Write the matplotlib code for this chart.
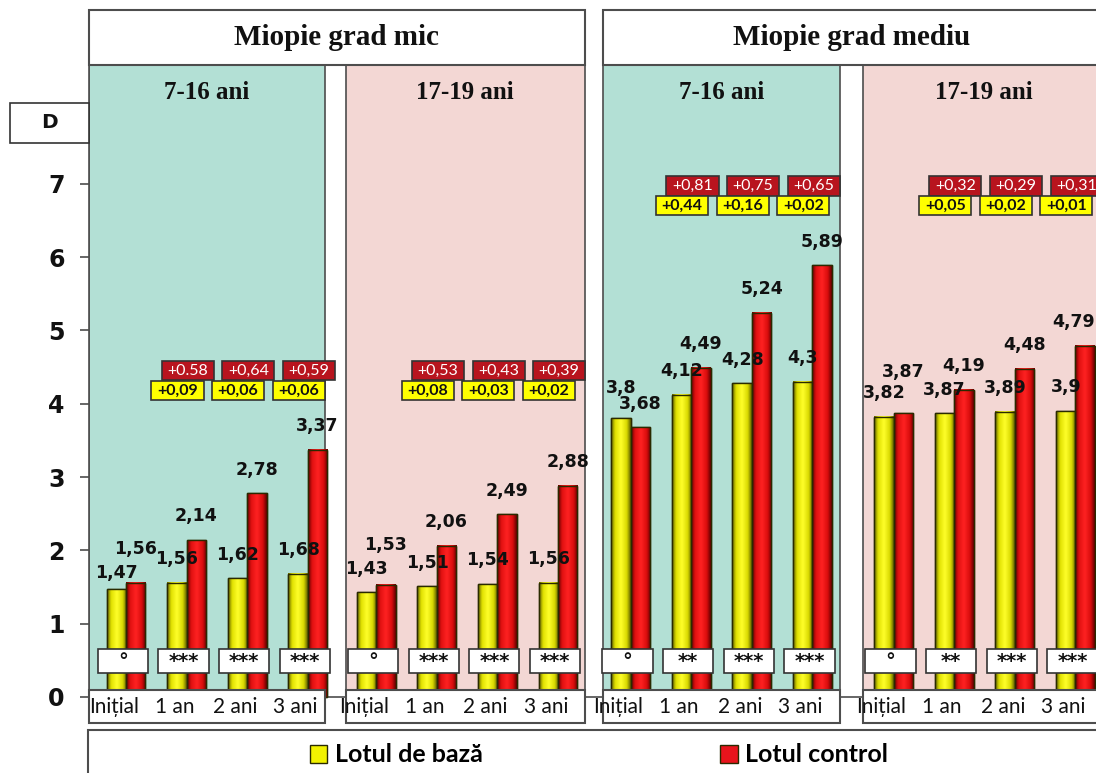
import numpy as np
import matplotlib.pyplot as plt
from matplotlib.patches import Rectangle
from matplotlib.colors import LinearSegmentedColormap

# refraction (D) per period, for each myopia degree / age group
periods = ["Inițial", "1 an", "2 ani", "3 ani"]
degree_titles = ["Miopie grad mic", "Miopie grad mediu"]
age_groups = ["7-16 ani", "17-19 ani", "7-16 ani", "17-19 ani"]

base_mic_7_16 = [1.47, 1.56, 1.62, 1.68]
ctrl_mic_7_16 = [1.56, 2.14, 2.78, 3.37]
base_mic_17_19 = [1.43, 1.51, 1.54, 1.56]
ctrl_mic_17_19 = [1.53, 2.06, 2.49, 2.88]
base_med_7_16 = [3.8, 4.12, 4.28, 4.3]
ctrl_med_7_16 = [3.68, 4.49, 5.24, 5.89]
base_med_17_19 = [3.82, 3.87, 3.89, 3.9]
ctrl_med_17_19 = [3.87, 4.19, 4.48, 4.79]

base_series = [base_mic_7_16, base_mic_17_19, base_med_7_16, base_med_17_19]
ctrl_series = [ctrl_mic_7_16, ctrl_mic_17_19, ctrl_med_7_16, ctrl_med_17_19]

# yearly gains printed above the bars
gain_base = [["+0,09", "+0,06", "+0,06"], ["+0,08", "+0,03", "+0,02"],
             ["+0,44", "+0,16", "+0,02"], ["+0,05", "+0,02", "+0,01"]]
gain_ctrl = [["+0.58", "+0,64", "+0,59"], ["+0,53", "+0,43", "+0,39"],
             ["+0,81", "+0,75", "+0,65"], ["+0,32", "+0,29", "+0,31"]]

significance = [["°", "***", "***", "***"], ["°", "***", "***", "***"],
                ["°", "**", "***", "***"], ["°", "**", "***", "***"]]

# layout
panel_offsets = [0, 4.13, 8.33, 12.67]
panel_left = [-0.61, -0.5, -0.46, -0.51]
panel_right = [3.28, 3.44, 3.45, 3.8]
panel_colors = ["#b3e0d5", "#f3d7d4", "#b3e0d5", "#f3d7d4"]
gain_y = [4.45, 4.45, 6.97, 6.97]
bar_w = 0.32
edge = "#4d4d4d"
y_top = 8.62

# extra lift / shift (points) for crowded value labels
label_lift = {(0, 0, 0): 11.5, (0, 0, 1): 24.5, (1, 0, 1): 29,
              (2, 0, 0): 22, (3, 0, 1): 30}
label_shift = {(3, 3, 1): -8}

yellow_cmap = LinearSegmentedColormap.from_list(
    "yel", [(0, "#5c5c00"), (0.2, "#e0e000"), (0.5, "#ffff2a"), (0.8, "#d8d800"), (1, "#5c5c00")])
red_cmap = LinearSegmentedColormap.from_list(
    "red", [(0, "#5e0000"), (0.2, "#e01010"), (0.5, "#ff2222"), (0.8, "#d80c0c"), (1, "#5e0000")])

fig = plt.figure(figsize=(10.96, 7.73), dpi=100)
ax = fig.add_axes([89 / 1096, 50 / 773, 1007 / 1096, 658 / 773])
ax.set_xlim(-0.61, 16.01)
ax.set_ylim(-0.355, y_top)


def shade(rect, cmap):
    x, w, h = rect.get_x(), rect.get_width(), rect.get_height()
    grad = np.linspace(0, 1, 64).reshape(1, -1)
    ax.imshow(grad, extent=(x, x + w, 0, h), cmap=cmap, aspect="auto",
              interpolation="bicubic", zorder=2.1)
    ax.add_patch(Rectangle((x, 0), w, h, fill=False, edgecolor="#2a2a00",
                           linewidth=1.0, zorder=2.2))


def box(xc, yc, w, h, text, face, tcolor, size, family="Lato", weight="normal", z=5):
    ax.add_patch(Rectangle((xc - w / 2, yc - h / 2), w, h, facecolor=face,
                           edgecolor="#333333", linewidth=1.2, zorder=z, clip_on=False))
    ax.text(xc, yc, text, ha="center", va="center", color=tcolor, fontsize=size,
            family=family, fontweight=weight, zorder=z + 0.1, clip_on=False)


# panel backgrounds
for p in range(4):
    x0 = panel_offsets[p] + panel_left[p]
    x1 = panel_offsets[p] + panel_right[p]
    ax.add_patch(Rectangle((x0, 0.09), x1 - x0, y_top - 0.09, facecolor=panel_colors[p],
                           edgecolor=edge, linewidth=1.2, zorder=0))
    ax.text((x0 + x1) / 2 if p < 3 else x0 + 2.0, 8.25, age_groups[p],
            ha="center", va="center", family="Liberation Serif", fontweight="bold",
            fontsize=18, color="#111111")

ax.axhline(0, color=edge, linewidth=1.2, zorder=0.5)

base_bars = ctrl_bars = None
for p in range(4):
    xs = panel_offsets[p] + np.arange(len(periods))
    base_bars = ax.bar(xs - bar_w / 2, base_series[p], bar_w, color="#f2f200",
                       edgecolor="#2a2a00", linewidth=1.0, zorder=2)
    ctrl_bars = ax.bar(xs + bar_w / 2, ctrl_series[p], bar_w, color="#e8141c",
                       edgecolor="#2a2a00", linewidth=1.0, zorder=2)
    for rect in base_bars:
        shade(rect, yellow_cmap)
    for rect in ctrl_bars:
        shade(rect, red_cmap)

    for s, bars in enumerate([base_bars, ctrl_bars]):
        for g, rect in enumerate(bars):
            v = rect.get_height()
            lift = label_lift.get((p, g, s), 17)
            shift = label_shift.get((p, g, s), 0)
            ax.annotate(f"{v:g}".replace(".", ","),
                        (rect.get_x() + rect.get_width() / 2, v),
                        xytext=(shift, lift), textcoords="offset points",
                        ha="center", va="center", fontsize=12.5, fontweight="bold",
                        color="#111111", zorder=4)

    # yearly gain boxes
    for g in range(3):
        xc = xs[g + 1]
        box(xc + 0.02, gain_y[p], 0.86, 0.26, gain_ctrl[p][g], "#b8141e", "white", 11.5, z=5)
        box(xc - 0.15, gain_y[p] - 0.27, 0.86, 0.26, gain_base[p][g], "#ffff00", "#111111", 11.5,
            weight="bold", z=5.5)

    # significance markers
    for g in range(4):
        box(xs[g] - 0.05, 0.49, 0.83, 0.33, significance[p][g], "white", "#111111", 14,
            family="DejaVu Sans", weight="bold", z=3)

    # category label strip
    x0 = panel_offsets[p] + panel_left[p]
    x1 = panel_offsets[p] + panel_right[p]
    ax.add_patch(Rectangle((x0, -0.355), x1 - x0, 0.45, facecolor="white",
                           edgecolor=edge, linewidth=1.5, zorder=6, clip_on=False))
    for g, lab in enumerate(periods):
        ax.text(xs[g] - 0.2, -0.135, lab, ha="center", va="center", family="Lato",
                fontsize=15, color="#111111", zorder=6.5)

# degree header boxes
header_spans = [(-0.61, 7.57), (7.87, 16.6)]
for (x0, x1), title in zip(header_spans, degree_titles):
    ax.add_patch(Rectangle((x0, y_top), x1 - x0, 0.75, facecolor="white",
                           edgecolor=edge, linewidth=1.5, zorder=6, clip_on=False))
    xc = (x0 + x1) / 2 if x1 < 16 else x0 + 4.1
    ax.text(xc, y_top + 0.37, title, ha="center", va="center", family="Liberation Serif",
            fontweight="bold", fontsize=21, color="#111111", zorder=6.5)

# axes styling
for side in ["top", "right", "bottom"]:
    ax.spines[side].set_visible(False)
ax.spines["left"].set_bounds(0, y_top)
ax.spines["left"].set_color(edge)
ax.spines["left"].set_linewidth(1.2)
ax.spines["left"].set_zorder(7)
ax.set_yticks(range(0, 8))
ax.tick_params(axis="y", length=6.5, width=1.2, color=edge, pad=11)
ax.set_xticks([])
for t in ax.get_yticklabels():
    t.set_fontweight("bold")
    t.set_fontsize(17)
    t.set_color("#111111")

# unit box
fig.patches.append(Rectangle((10 / 1096, 1 - 143 / 773), 79 / 1096, 40 / 773,
                             transform=fig.transFigure, facecolor="white",
                             edgecolor="#333333", linewidth=1.2))
fig.text(49 / 1096, 1 - 123 / 773, "D", ha="center", va="center", fontsize=14.5,
         fontweight="bold", color="#111111")

# legend box
fig.patches.append(Rectangle((88 / 1096, -0.02), 1.0, 43 / 773 + 0.02,
                             transform=fig.transFigure, facecolor="white",
                             edgecolor="#4d4d4d", linewidth=1.5))
leg = fig.legend([base_bars, ctrl_bars], ["Lotul de bază", "Lotul control"],
                 loc="center", bbox_to_anchor=(599 / 1096, 18 / 773), ncol=2,
                 frameon=False, handlelength=0.7, handleheight=0.7,
                 handletextpad=0.3, columnspacing=9.5,
                 prop={"family": "Lato", "weight": "bold", "size": 18})

fig.savefig("out.png", dpi=100)
